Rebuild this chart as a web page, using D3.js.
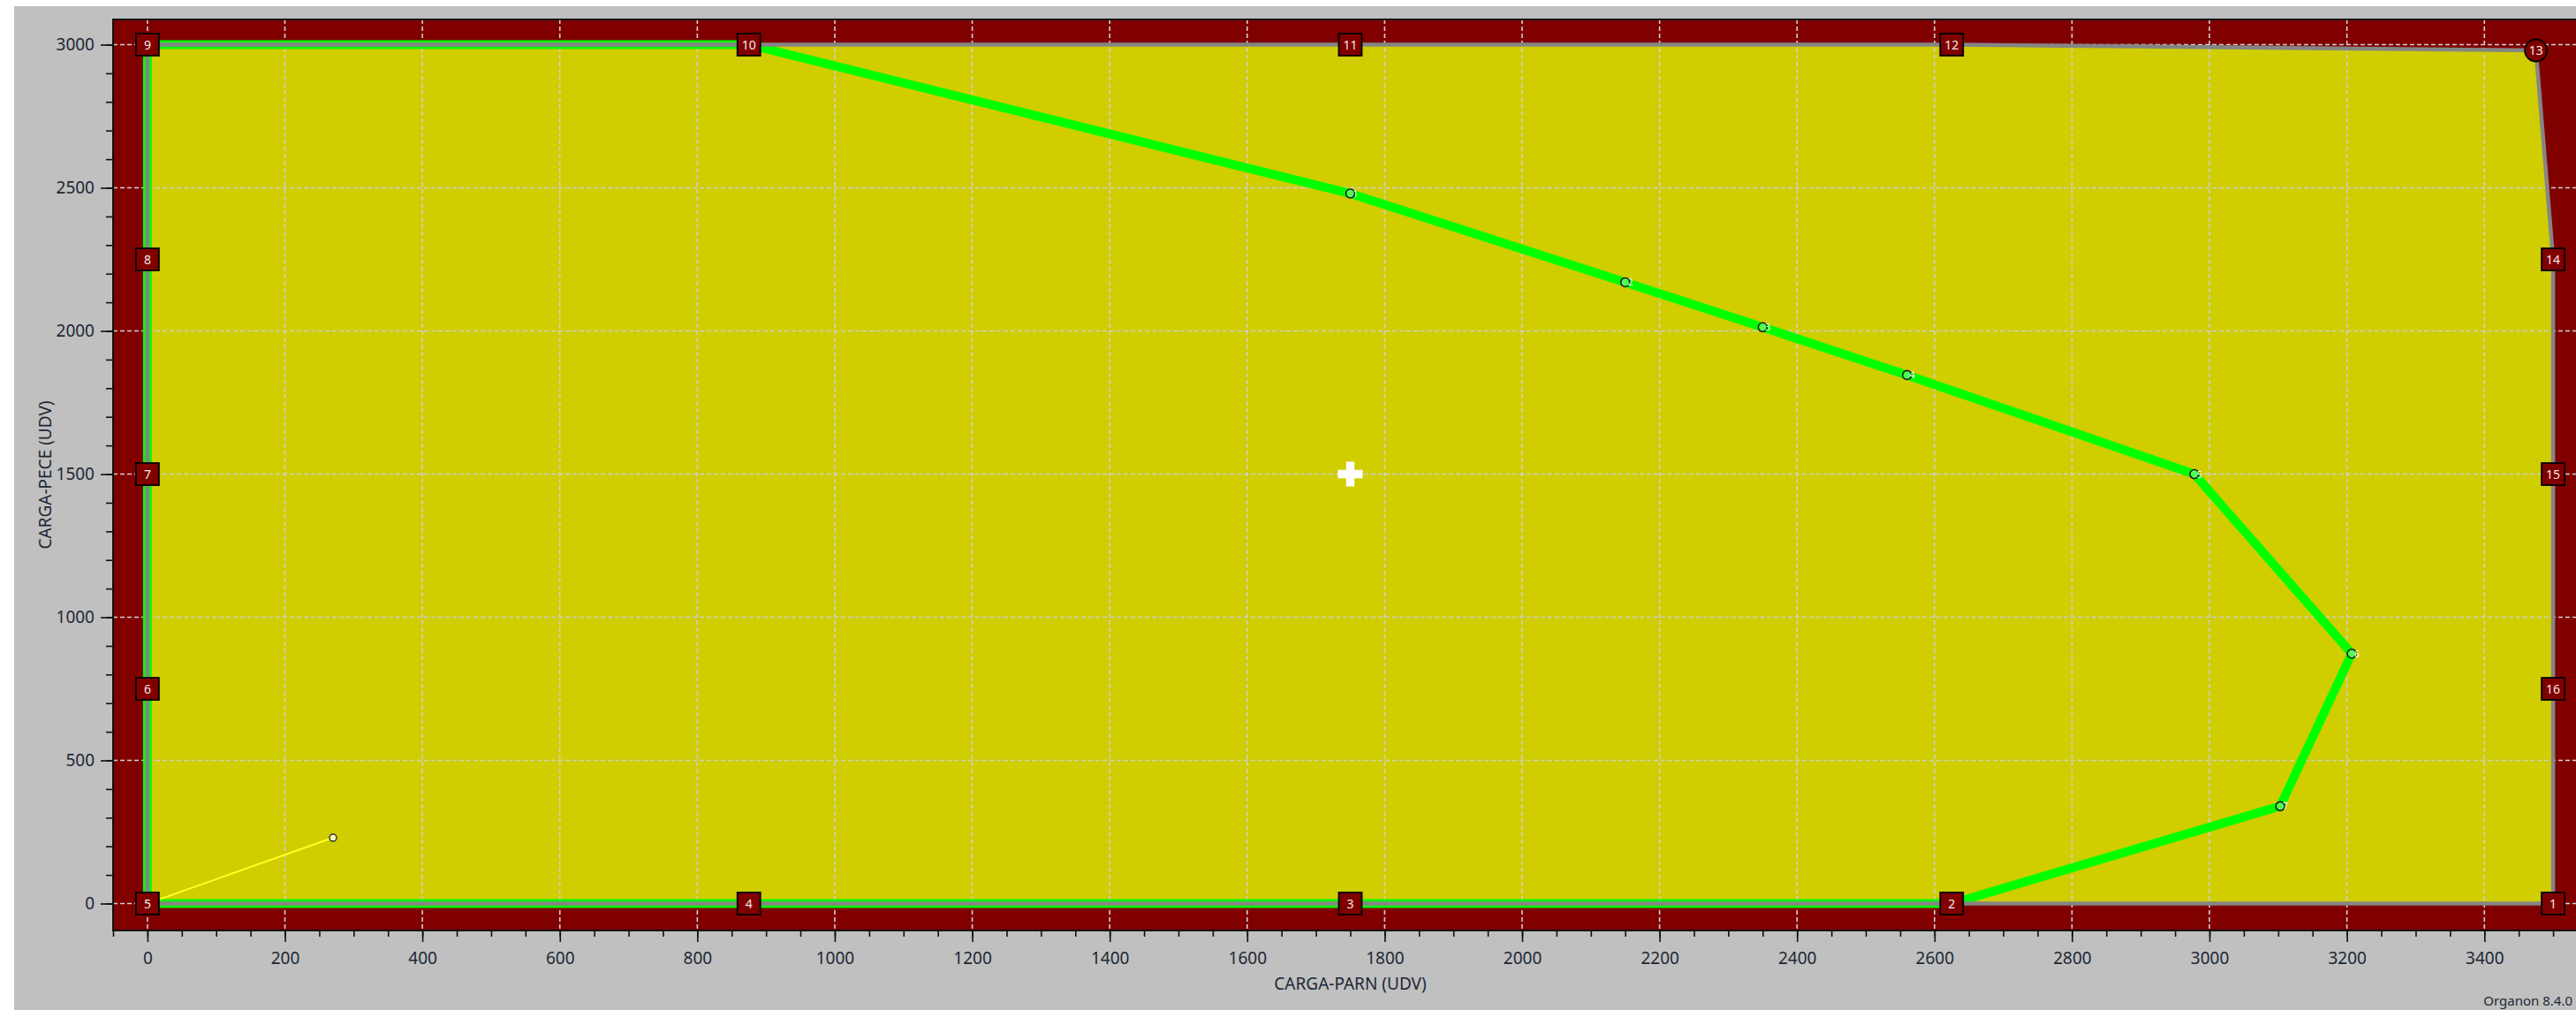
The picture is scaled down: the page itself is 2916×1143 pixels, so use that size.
<!DOCTYPE html>
<html>
<head>
<meta charset="utf-8">
<script src="https://cdn.jsdelivr.net/npm/d3@7"></script>
<style>
  html, body { margin: 0; padding: 0; background: #ffffff; overflow: hidden; }
  svg { display: block; }
  text { font-family: "Noto Sans", "Open Sans", sans-serif; }
</style>
</head>
<body>
<svg id="chart" width="2916" height="1143"></svg>
<script>
// Security region: vertices of the limit polygon (UDV)
const regionX = [3500, 2625, 1750, 875, 0, 0, 0, 0, 0, 875, 1750, 2625, 3475, 3500, 3500, 3500];
const regionY = [0, 0, 0, 0, 0, 750, 1500, 2250, 3000, 3000, 3000, 3000, 2980, 2250, 1500, 750];
const regionLabels = ["1", "2", "3", "4", "5", "6", "7", "8", "9", "10", "11", "12", "13", "14", "15", "16"];
const regionShapes = ["sq", "sq", "sq", "sq", "sq", "sq", "sq", "sq", "sq", "sq", "sq", "sq", "circ", "sq", "sq", "sq"];

// Secure operating boundary (green curve)
const secureX = [875, 0, 0, 2625, 3103, 3207, 2978, 2560, 2350, 2150, 1750];
const secureY = [3000, 3000, 0, 0, 340, 873, 1500, 1846, 2013, 2170, 2480];
// Computed boundary points shown with markers
const probeX = [1750, 2150, 2350, 2560, 2978, 3207, 3103];
const probeY = [2480, 2170, 2013, 1846, 1500, 873, 340];
const probeLabels = ["1", "2", "3", "4", "5", "6", "7"];

// Load transfer direction (yellow ray)
const rayX = [0, 270];
const rayY = [0, 230];

// Current operating point
const opX = [1750];
const opY = [1500];

// Axis ticks
const xMajorTicks = d3.range(0, 3401, 200);
const xMinorTicks = d3.range(-50, 3551, 50);
const yMajorTicks = d3.range(0, 3001, 500);
const yMinorTicks = d3.range(0, 3001, 100);

const xTitle = "CARGA-PARN (UDV)";
const yTitle = "CARGA-PECE (UDV)";
const footer = "Organon 8.4.0";

const W = 2916, H = 1143;
const svg = d3.select("#chart");

const x = d3.scaleLinear().domain([-50, 3550]).range([128, 2929]);
const y = d3.scaleLinear().domain([-94, 3088]).range([1053, 22]);

// window panel
svg.append("rect").attr("x", 16).attr("y", 7).attr("width", W - 16).attr("height", H - 7).attr("fill", "#c0c0c0");

// plot background
const plotG = svg.append("g");
plotG.append("rect")
  .attr("x", x.range()[0]).attr("y", y.range()[1])
  .attr("width", x.range()[1] - x.range()[0])
  .attr("height", y.range()[0] - y.range()[1])
  .attr("fill", "#800000");

const region = regionX.map((v, i) => [v, regionY[i]]);
const line = d3.line().x(d => x(d[0])).y(d => y(d[1]));

// region fill
plotG.append("path")
  .attr("d", line(region) + "Z")
  .attr("fill", "#d0cd00");

// grid
const grid = plotG.append("g").attr("stroke", "#cfcfcf").attr("stroke-width", 1.6).attr("stroke-dasharray", "5,3");
grid.selectAll("line.gx").data(xMajorTicks).join("line")
  .attr("x1", d => x(d)).attr("x2", d => x(d))
  .attr("y1", y.range()[1]).attr("y2", y.range()[0]);
grid.selectAll("line.gy").data(yMajorTicks).join("line")
  .attr("y1", d => y(d)).attr("y2", d => y(d))
  .attr("x1", x.range()[0]).attr("x2", x.range()[1]);

// secure boundary
const secure = secureX.map((v, i) => [v, secureY[i]]);
plotG.append("path")
  .attr("d", line(secure) + "Z")
  .attr("fill", "none")
  .attr("stroke", "#00ff00")
  .attr("stroke-width", 10)
  .attr("stroke-linejoin", "miter");

// region outline
plotG.append("path")
  .attr("d", line(region) + "Z")
  .attr("fill", "none")
  .attr("stroke", "#858585")
  .attr("stroke-width", 4.5)
  .attr("stroke-linejoin", "miter");

// transfer ray
const ray = rayX.map((v, i) => [v, rayY[i]]);
plotG.append("path").attr("d", line(ray)).attr("fill", "none").attr("stroke", "#ffff20").attr("stroke-width", 2);
plotG.append("circle")
  .attr("cx", x(rayX[1])).attr("cy", y(rayY[1])).attr("r", 4)
  .attr("fill", "#f4f4c0").attr("stroke", "#333").attr("stroke-width", 1.5);

// boundary probe markers
const probes = plotG.append("g");
probes.selectAll("circle").data(probeX).join("circle")
  .attr("cx", (d) => x(d)).attr("cy", (d, i) => y(probeY[i]))
  .attr("r", 5)
  .attr("fill", "#50ff50").attr("stroke", "#1a1a1a").attr("stroke-width", 1.6);
probes.selectAll("text").data(probeLabels).join("text")
  .attr("x", (d, i) => x(probeX[i]) + 3).attr("y", (d, i) => y(probeY[i]) + 4)
  .attr("font-size", 10).attr("fill", "#ffffff")
  .text(d => d);

// operating point
plotG.append("path")
  .attr("d", d3.symbol().type(d3.symbolCross).size(440)())
  .attr("transform", `translate(${x(opX[0])},${y(opY[0])})`)
  .attr("fill", "#ffffff");

// vertex labels
const vg = plotG.append("g");
const vtx = vg.selectAll("g").data(regionLabels).join("g")
  .attr("transform", (d, i) => `translate(${x(regionX[i])},${y(regionY[i])})`);
vtx.each(function (d, i) {
  const g = d3.select(this);
  if (regionShapes[i] === "circ") {
    g.append("circle").attr("r", 12.5).attr("fill", "#800000").attr("stroke", "#000").attr("stroke-width", 1.8);
  } else {
    g.append("rect").attr("x", -13).attr("y", -12.5).attr("width", 26).attr("height", 25)
      .attr("fill", "#800000").attr("stroke", "#000").attr("stroke-width", 1.8);
  }
  g.append("text").attr("text-anchor", "middle").attr("dy", "0.36em")
    .attr("font-size", 14).attr("fill", "#f6e8e8").text(d);
});

// plot frame
svg.append("path")
  .attr("d", `M${x.range()[1]},${y.range()[1]}H${x.range()[0]}V${y.range()[0]}H${x.range()[1]}`)
  .attr("fill", "none").attr("stroke", "#111").attr("stroke-width", 2);

// axes
const textColor = "#1d2835";
const xAxisMinor = svg.append("g").attr("transform", `translate(0,${y.range()[0]})`)
  .call(d3.axisBottom(x).tickValues(xMinorTicks).tickSize(7).tickFormat(""));
const xAxisMajor = svg.append("g").attr("transform", `translate(0,${y.range()[0]})`)
  .call(d3.axisBottom(x).tickValues(xMajorTicks).tickSize(13).tickPadding(12).tickFormat(d3.format("d")));
const yAxisMinor = svg.append("g").attr("transform", `translate(${x.range()[0]},0)`)
  .call(d3.axisLeft(y).tickValues(yMinorTicks).tickSize(8).tickFormat(""));
const yAxisMajor = svg.append("g").attr("transform", `translate(${x.range()[0]},0)`)
  .call(d3.axisLeft(y).tickValues(yMajorTicks).tickSize(14).tickPadding(7).tickFormat(d3.format("d")));

[xAxisMinor, xAxisMajor, yAxisMinor, yAxisMajor].forEach(a => {
  a.select(".domain").remove();
  a.selectAll(".tick line").attr("stroke", "#111").attr("stroke-width", 1.6);
  a.selectAll(".tick text").attr("font-family", "'Noto Sans', sans-serif").attr("font-size", 19).attr("fill", textColor);
});

// axis titles
svg.append("text")
  .attr("x", (x.range()[0] + x.range()[1]) / 2).attr("y", 1120)
  .attr("text-anchor", "middle").attr("font-size", 19).attr("fill", textColor)
  .text(xTitle);
svg.append("text")
  .attr("transform", `translate(58,${(y.range()[0] + y.range()[1]) / 2}) rotate(-90)`)
  .attr("text-anchor", "middle").attr("font-size", 19).attr("fill", textColor)
  .text(yTitle);

// footer
svg.append("text")
  .attr("x", 2912).attr("y", 1138)
  .attr("text-anchor", "end").attr("font-size", 15).attr("fill", textColor)
  .text(footer);
</script>
</body>
</html>
